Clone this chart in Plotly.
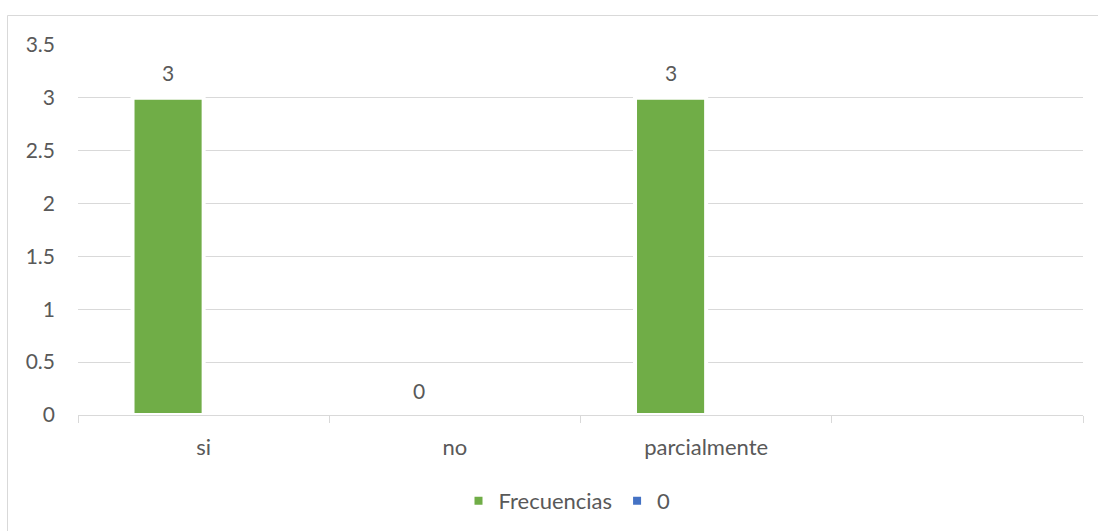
import plotly.graph_objects as go

categories = ["si", "no", "parcialmente", " "]
frecuencias = [3, 0, 3, None]
serie_cero = [None, None, None, None]
series_names = ["Frecuencias", "0"]
y_ticks = [0, 0.5, 1, 1.5, 2, 2.5, 3, 3.5]

GREEN = "#70AD47"
BLUE = "#4472C4"
GRID = "#D9D9D9"
TXT = "#595959"
FONT = "Lato"
FS = 21
FS_TXT = 22

W, H = 1098, 531
L, R, T, B = 78, 1098 - 1083, 45, 531 - 415

fig = go.Figure()
fig.add_trace(go.Bar(x=categories, y=frecuencias, name=series_names[0],
                     marker=dict(color=GREEN, line=dict(color="white", width=4))))
fig.add_trace(go.Bar(x=categories, y=serie_cero, name=series_names[1],
                     marker=dict(color=BLUE, line=dict(color="white", width=4))))

# data labels for the Frecuencias series
for c, v in zip(categories, frecuencias):
    if v is None:
        continue
    fig.add_annotation(x=c, y=v, text=str(v), showarrow=False, xshift=-35.5,
                       yshift=25, yanchor="middle", xanchor="center",
                       font=dict(family=FONT, size=FS, color=TXT))

# chart area border (top and left visible)
pw, ph = W - L - R, H - T - B
def px_x(p):
    return (p - L) / pw
def px_y(p):
    return (H - B - p) / ph
fig.add_shape(type="line", xref="paper", yref="paper", x0=px_x(7.5), x1=px_x(1100),
              y0=px_y(15.5), y1=px_y(15.5), line=dict(color=GRID, width=1))
fig.add_shape(type="line", xref="paper", yref="paper", x0=px_x(7.5), x1=px_x(7.5),
              y0=px_y(15.5), y1=px_y(540), line=dict(color=GRID, width=1))

fig.update_layout(
    width=W, height=H,
    margin=dict(l=L, r=R, t=T, b=B, autoexpand=False),
    paper_bgcolor="white", plot_bgcolor="white",
    barmode="group", bargap=0.434, bargroupgap=0,
    font=dict(family=FONT, size=FS, color=TXT),
    showlegend=True,
    legend=dict(orientation="h", x=px_x(567), xanchor="center", y=px_y(501), yanchor="middle",
                font=dict(family=FONT, size=FS_TXT, color=TXT), itemwidth=30,
                traceorder="normal"),
)
fig.update_xaxes(type="category", categoryorder="array", categoryarray=categories,
                 range=[-0.5, 3.5], tickson="boundaries", ticks="outside", ticklen=7,
                 tickcolor=GRID, tickwidth=1, showline=True, linecolor=GRID, linewidth=1,
                 showgrid=False, ticklabelstandoff=13,
                 tickfont=dict(family=FONT, size=FS_TXT, color=TXT))
fig.update_yaxes(range=[0, 3.5], tickvals=y_ticks, showgrid=True, gridcolor=GRID,
                 gridwidth=1, zeroline=False, showline=False, ticks="",
                 ticklabelstandoff=22, tickfont=dict(family=FONT, size=FS, color=TXT))

fig.write_html("out.html", config={"displayModeBar": False},
               post_script="document.body.style.margin='0px';")
